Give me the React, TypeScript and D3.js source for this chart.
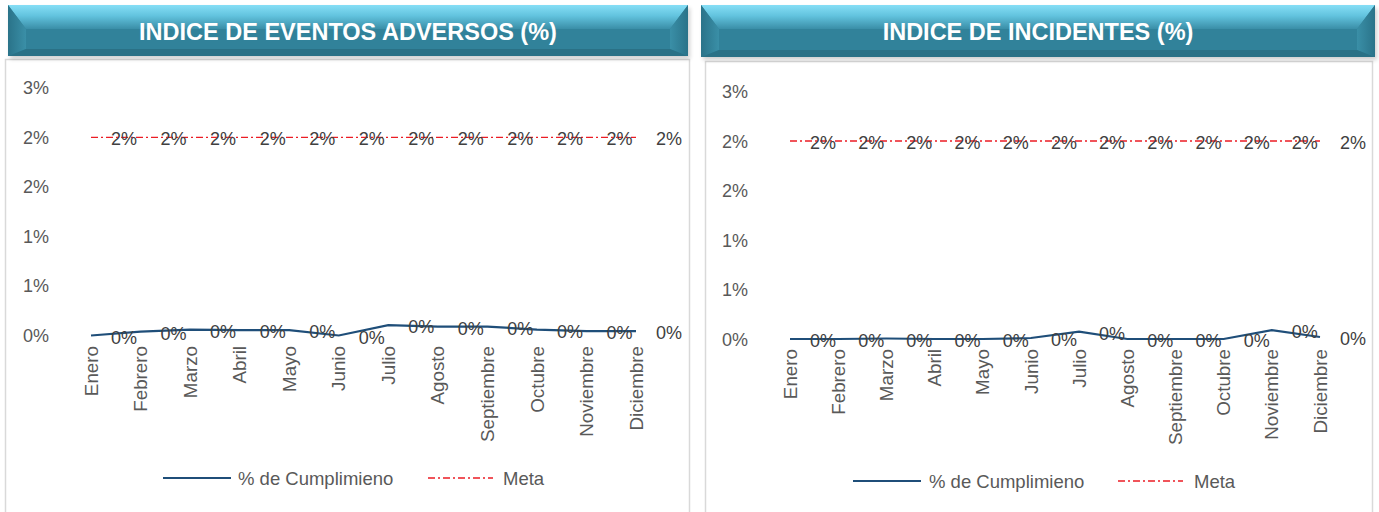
import React from "react";
import * as d3 from "d3";

// meses del eje x
const months = [
  "Enero",
  "Febrero",
  "Marzo",
  "Abril",
  "Mayo",
  "Junio",
  "Julio",
  "Agosto",
  "Septiembre",
  "Octubre",
  "Noviembre",
  "Diciembre",
];

// valores en %
const eventosValues = [0, 0.04, 0.06, 0.055, 0.055, 0, 0.105, 0.09, 0.09, 0.06, 0.045, 0.045];
const incidentesValues = [0, 0, 0.005, 0, 0, 0.01, 0.075, 0, 0, 0, 0.09, 0.02];
const metaValues = [2, 2, 2, 2, 2, 2, 2, 2, 2, 2, 2, 2];

const yTicks = [0, 0.5, 1, 1.5, 2, 2.5];
const yTickLabels = ["0%", "1%", "1%", "2%", "2%", "3%"];

const seriesNames = ["% de Cumplimieno", "Meta"];

const FONT = "Arial, 'Liberation Sans', sans-serif";
const BLUE = "#1f4e79";
const RED = "#ec1c24";
const DASH = "7,3,2,3";
const fmt = (v: number) => d3.format(".0f")(v) + "%";

const panels = [
  {
    id: "a",
    title: "INDICE DE EVENTOS ADVERSOS (%)",
    values: eventosValues,
    header: { x: 8, y: 5, w: 680, h: 51 },
    box: { x: 5.5, y: 59.5, w: 684, h: 460 },
    xRange: [91, 636],
    yRange: [335.5, 87.75],
    yLabelX: 49,
    catTop: 346,
    legendY: 478,
    legend: [163, 238, 428, 503],
  },
  {
    id: "b",
    title: "INDICE DE INCIDENTES (%)",
    values: incidentesValues,
    header: { x: 701, y: 5, w: 674, h: 52 },
    box: { x: 705.5, y: 61.5, w: 667, h: 460 },
    xRange: [790, 1320],
    yRange: [339, 91.5],
    yLabelX: 748,
    catTop: 349,
    legendY: 481,
    legend: [853, 929, 1118, 1194],
  },
];

function Header({ p }: { p: any }) {
  const { x, y, w, h } = p.header;
  const sx = 18; // bisel lateral
  const st = 24; // bisel superior
  const sb = 7; // bisel inferior
  return (
    <g>
      <rect x={x + 2} y={y + 3} width={w} height={h} fill="#000" opacity={0.18} filter={`url(#blur)`} />
      <rect x={x} y={y} width={w} height={h} fill="#31829a" />
      {/* cara superior */}
      <polygon
        points={`${x},${y} ${x + w},${y} ${x + w - sx},${y + st} ${x + sx},${y + st}`}
        fill="url(#topGrad)"
      />
      {/* lados */}
      <polygon
        points={`${x},${y} ${x + sx},${y + st} ${x + sx},${y + h - sb} ${x},${y + h}`}
        fill="url(#sideGradL)"
      />
      <polygon
        points={`${x + w},${y} ${x + w - sx},${y + st} ${x + w - sx},${y + h - sb} ${x + w},${y + h}`}
        fill="url(#sideGradR)"
      />
      {/* cara inferior */}
      <polygon
        points={`${x},${y + h} ${x + sx},${y + h - sb} ${x + w - sx},${y + h - sb} ${x + w},${y + h}`}
        fill="#2a7186"
      />
      <text
        x={x + w / 2}
        y={y + h / 2 + 1}
        textAnchor="middle"
        dominantBaseline="central"
        fill="#ffffff"
        fontFamily={FONT}
        fontWeight="bold"
        fontSize={23.5}
      >
        {p.title}
      </text>
    </g>
  );
}

function Panel({ p }: { p: any }) {
  const x = d3.scalePoint<string>().domain(months).range(p.xRange as [number, number]);
  const y = d3.scaleLinear().domain([0, 2.5]).range(p.yRange as [number, number]);
  const line = d3
    .line<number>()
    .x((_, i) => x(months[i]) as number)
    .y((v) => y(v));
  const [lx, tx, mx, mtx] = p.legend;

  return (
    <g>
      <rect x={p.box.x} y={p.box.y} width={p.box.w} height={p.box.h} fill="#fff" stroke="#d9d9d9" strokeWidth={1.5} />
      <Header p={p} />

      {/* eje y */}
      {yTicks.map((t, i) => (
        <text
          key={"yt" + i}
          x={p.yLabelX}
          y={y(t) + 0.5}
          textAnchor="end"
          dominantBaseline="central"
          fill="#595959"
          fontFamily={FONT}
          fontSize={18}
        >
          {yTickLabels[i]}
        </text>
      ))}

      {/* eje x */}
      {months.map((m) => (
        <text
          key={m}
          transform={`translate(${x(m)},${p.catTop}) rotate(-90)`}
          dy="0.35em"
          textAnchor="end"
          fill="#595959"
          fontFamily={FONT}
          fontSize={18.8}
        >
          {m}
        </text>
      ))}

      <path d={line(metaValues) || ""} fill="none" stroke={RED} strokeWidth={1.3} strokeDasharray={DASH} />
      <path d={line(p.values) || ""} fill="none" stroke={BLUE} strokeWidth={2.2} />

      {/* etiquetas de datos */}
      {metaValues.map((v, i) => (
        <text
          key={"ml" + i}
          x={(x(months[i]) as number) + 20}
          y={y(v) + 2}
          dominantBaseline="central"
          fill="#404040"
          fontFamily={FONT}
          fontSize={18}
        >
          {fmt(v)}
        </text>
      ))}
      {p.values.map((v: number, i: number) => (
        <text
          key={"vl" + i}
          x={(x(months[i]) as number) + 20}
          y={y(v) + 2}
          dominantBaseline="central"
          fill="#404040"
          fontFamily={FONT}
          fontSize={18}
        >
          {fmt(v)}
        </text>
      ))}

      {/* leyenda */}
      <line x1={lx} x2={lx + 68} y1={p.legendY} y2={p.legendY} stroke={BLUE} strokeWidth={2.2} />
      <text x={tx} y={p.legendY} dominantBaseline="central" fill="#595959" fontFamily={FONT} fontSize={18.5}>
        {seriesNames[0]}
      </text>
      <line
        x1={mx}
        x2={mx + 65}
        y1={p.legendY}
        y2={p.legendY}
        stroke={RED}
        strokeWidth={1.3}
        strokeDasharray={DASH}
      />
      <text x={mtx} y={p.legendY} dominantBaseline="central" fill="#595959" fontFamily={FONT} fontSize={18.5}>
        {seriesNames[1]}
      </text>
    </g>
  );
}

export default function App() {
  return (
    <svg
      width={1379}
      height={512}
      style={{ position: "absolute", left: 0, top: 0, display: "block", background: "#fff" }}
    >
      <defs>
        <linearGradient id="topGrad" x1="0" y1="0" x2="0" y2="1">
          <stop offset="0%" stopColor="#86def6" />
          <stop offset="45%" stopColor="#62c3de" />
          <stop offset="100%" stopColor="#3a8ea7" />
        </linearGradient>
        <linearGradient id="sideGradL" x1="0" y1="0" x2="1" y2="0">
          <stop offset="0%" stopColor="#2a7389" />
          <stop offset="100%" stopColor="#3a8fa7" />
        </linearGradient>
        <linearGradient id="sideGradR" x1="1" y1="0" x2="0" y2="0">
          <stop offset="0%" stopColor="#2a7389" />
          <stop offset="100%" stopColor="#3a8fa7" />
        </linearGradient>
        <filter id="blur" x="-5%" y="-20%" width="110%" height="140%">
          <feGaussianBlur stdDeviation="2" />
        </filter>
      </defs>
      {panels.map((p) => (
        <Panel key={p.id} p={p} />
      ))}
    </svg>
  );
}
